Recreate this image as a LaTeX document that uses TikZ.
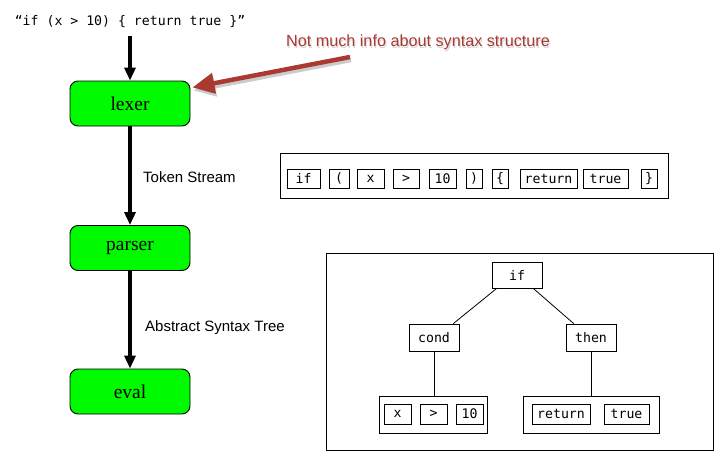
\documentclass[tikz,border=0pt]{standalone}
\usepackage{fontspec}
\setmainfont{Liberation Serif}
\setsansfont{Liberation Sans}
\setmonofont{DejaVu Sans Mono}
\usetikzlibrary{arrows.meta,calc}
\definecolor{stagegreen}{RGB}{0,250,0}
\definecolor{noteRed}{RGB}{170,57,50}
\begin{document}
\begin{tikzpicture}[x=1pt,y=-1pt,
  stage/.style={draw=black, line width=0.9pt, fill=stagegreen, rounded corners=8pt,
    minimum width=120pt, minimum height=45pt, inner sep=0pt,
    font=\fontsize{19.5}{20}\selectfont},
  flow/.style={line width=3.5pt, -{Triangle[length=13pt,width=11pt]}},
  lbl/.style={font=\sffamily\fontsize{15}{16}\selectfont, anchor=west, inner sep=0pt},
  mono/.style={font=\ttfamily\fontsize{13.2}{14}\selectfont},
  tok/.style={draw, line width=0.8pt, fill=white, inner sep=0pt, mono},
  frame/.style={draw, line width=1pt, inner sep=0pt},
  link/.style={line width=0.8pt}
]
\useasboundingbox (0,0) rectangle (723,461);

% source string and pipeline stages
\node[mono, inner sep=0pt] (src) at (130,22) {“if (x > 10) \{ return true \}”};
\coordinate (srcend) at (130,36);
\node[stage] (lexer)  at (130,103.5) {lexer};
\node[stage] (parser) at (130,248)   {parser};
\node[stage] (eval)   at (130,391.5) {eval};

\draw[flow] (srcend) -- (lexer.north);
\draw[flow] (lexer.south) -- (parser.north);
\draw[flow] (parser.south) -- (eval.north);

\node[lbl] (tslbl)  at (143,177) {Token Stream};
\node[lbl] (astlbl) at (145,328) {Abstract Syntax Tree};

% annotation
\node[font=\sffamily\fontsize{16.2}{17}\selectfont, text=black!35, opacity=0.45, inner sep=0pt]
  at (419,44) {Not much info about syntax structure};
\node[font=\sffamily\fontsize{16.2}{17}\selectfont, text=noteRed, inner sep=0pt] (note)
  at (418,42.5) {Not much info about syntax structure};
\coordinate (notetail) at (350,57);
\coordinate (notehead) at ($(lexer.north east)!0.15!(lexer.south east)+(2,0)$);
\draw[line width=4.5pt, black, opacity=0.2, -{Triangle[length=22pt,width=20pt]}]
  ($(notetail)+(1,3)$) -- ($(notehead)+(1,3)$);
\draw[line width=4.5pt, noteRed, -{Triangle[length=22pt,width=20pt]}]
  (notetail) -- (notehead);

% token stream
\node[frame, minimum width=388pt, minimum height=45pt] (tokbox) at (474,175.5) {};
\foreach \nm/\cx/\w/\t in {t1/303.5/33/if, t2/339/20/(, t3/370.5/27/x, t4/406/26/>,
    t5/442.5/27/10, t6/474/16/), t7/500/16/\{, t8/548.5/57/return,
    t9/605.5/45/true, t10/649/16/\}}
  \node[tok, minimum width=\w pt, minimum height=19pt] (\nm) at (\cx,178.5) {\t};

% abstract syntax tree
\node[frame, minimum width=387pt, minimum height=197pt] (treebox) at (519.5,351.5) {};
\node[tok, minimum width=50pt, minimum height=26pt] (ifn)  at (517,275)   {if};
\node[tok, minimum width=50pt, minimum height=27pt] (cond) at (434,337.5) {cond};
\node[tok, minimum width=50pt, minimum height=27pt] (then) at (591,337.5) {then};
\node[frame, line width=0.9pt, minimum width=108pt, minimum height=37pt] (lgrp) at (433,414.5) {};
\node[frame, line width=0.9pt, minimum width=136pt, minimum height=37pt] (rgrp) at (591,414.5) {};
\node[tok, minimum width=27pt, minimum height=20pt] (lx)    at (397.5,414) {x};
\node[tok, minimum width=27pt, minimum height=20pt] (lgt)   at (433.5,414) {>};
\node[tok, minimum width=27pt, minimum height=20pt] (lten)  at (469.5,414) {10};
\node[tok, minimum width=58pt, minimum height=20pt] (rret)  at (561,414)   {return};
\node[tok, minimum width=45pt, minimum height=20pt] (rtrue) at (626.5,414) {true};

\draw[link] ($(ifn.south west)!0.1!(ifn.south east)$) -- ($(cond.north west)!0.88!(cond.north east)$);
\draw[link] ($(ifn.south west)!0.82!(ifn.south east)$) -- ($(then.north west)!0.16!(then.north east)$);
\draw[link] (cond.south) -- (cond.south |- lgrp.north);
\draw[link] (then.south) -- (then.south |- rgrp.north);
\end{tikzpicture}
\end{document}
